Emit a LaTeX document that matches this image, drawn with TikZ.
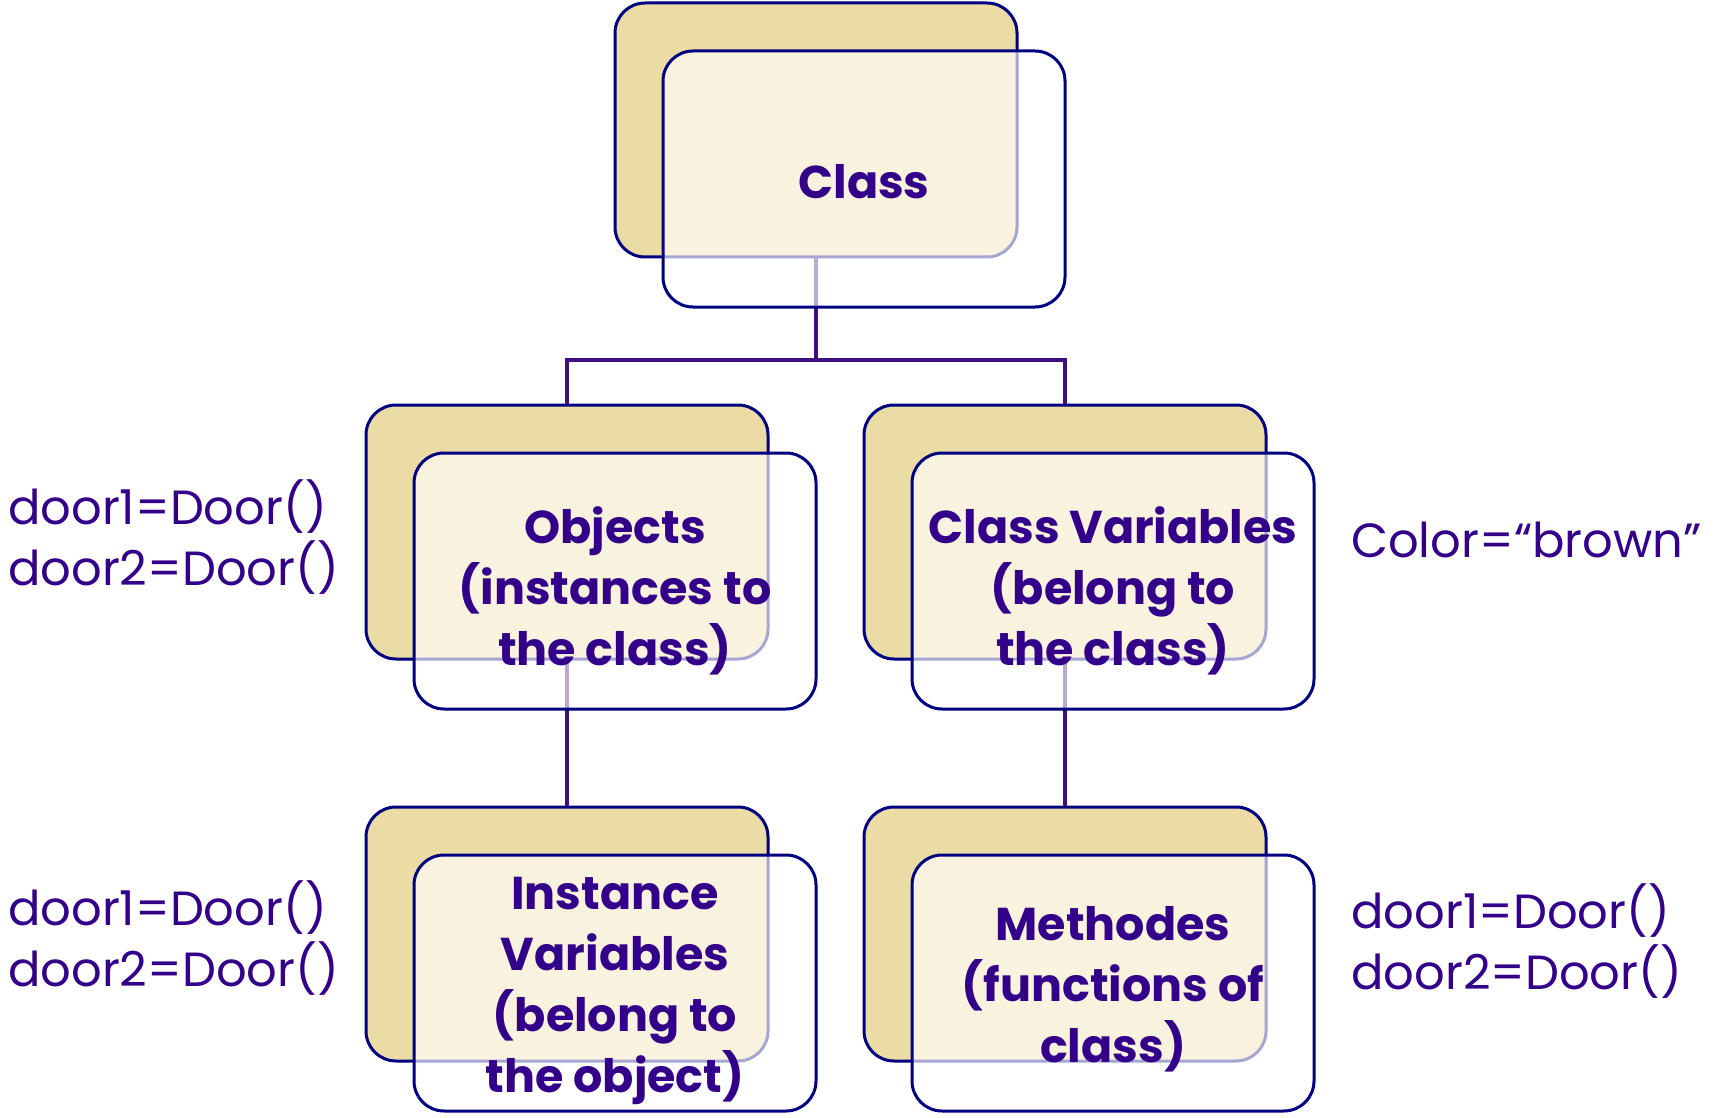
\documentclass[tikz,border=0pt]{standalone}
\usepackage{fontspec}
\setmainfont{Poppins}
\usepackage{xcolor}
\usepackage{tikz}
\usetikzlibrary{positioning}
\definecolor{boxline}{RGB}{0,0,128}
\definecolor{boxfill}{RGB}{235,220,165}
\definecolor{textpurple}{RGB}{51,0,137}
\definecolor{linkpurple}{RGB}{60,16,128}
\tikzset{
  backbox/.style={draw=boxline, fill=boxfill, line width=3pt, rounded corners=30pt,
    minimum width=402pt, minimum height=254pt, inner sep=0pt},
  frontbox/.style={draw=boxline, line width=3pt, fill=white, fill opacity=0.65,
    rounded corners=30pt, minimum width=402pt, minimum height=256pt},
  boxtext/.style={align=center, text=textpurple, font=\fontsize{46}{61}\selectfont\bfseries},
  sidetext/.style={anchor=west, align=left, inner sep=0pt, text=textpurple,
    font=\fontsize{48}{61}\selectfont}
}

\begin{document}
\begin{tikzpicture}[level distance=402pt, sibling distance=498pt,
  edge from parent/.style={draw=linkpurple, line width=4pt},
  edge from parent path={(\tikzparentnode.south) -- ++(0,-101pt) -| (\tikzchildnode.north)}]
\useasboundingbox (0,0) rectangle (1719pt,-1118pt);
\node [backbox] (class) at (816pt,-130pt) {}
  child {node [backbox] (obj) {}
    child {node [backbox] (inst) {}}
  }
  child {node [backbox] (cvar) {}
    child {node [backbox] (meth) {}}
  };
\foreach \n/\s/\t in {class/-3/Class,
  obj/-10/{Objects\\(instances to\\the class)},
  cvar/-10/{Class Variables\\(belong to\\the class)},
  inst/-8/{Instance\\Variables\\(belong to\\the object)},
  meth/-6/{Methodes\\(functions of\\class)}}
{
  \node [frontbox] (\n-f) at ([shift={(48pt,-49pt)}]\n.center) {};
  \node [boxtext] (\n-t) at ([yshift=\s pt]\n-f.center) {\t};
}
\node [sidetext] (objdoors) at (8pt,-537pt) {door1=Door()\\door2=Door()};
\node [sidetext] (instdoors) at (8pt,-938pt) {door1=Door()\\door2=Door()};
\node [sidetext] (colour) at (1351pt,-540pt) {Color=“brown”};
\node [sidetext] (methdoors) at (1351pt,-941pt) {door1=Door()\\door2=Door()};
\end{tikzpicture}
\end{document}
